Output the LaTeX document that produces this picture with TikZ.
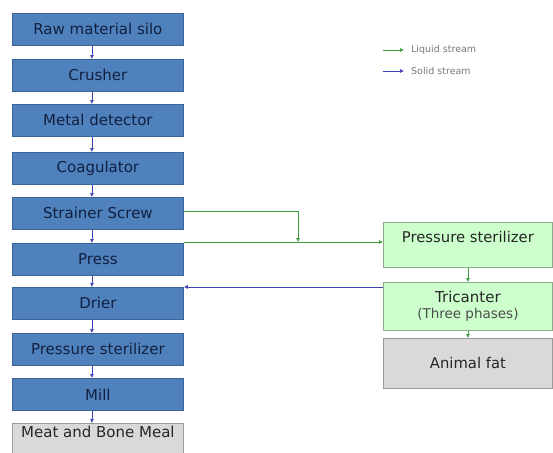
\documentclass[tikz,border=0pt]{standalone}
\usepackage{fontspec}
\setmainfont{DejaVu Sans}
\usetikzlibrary{arrows.meta}
\definecolor{boxblue}{HTML}{4F81BD}
\definecolor{boxblueline}{HTML}{3A6496}
\definecolor{txtblue}{HTML}{12203F}
\definecolor{grnfill}{HTML}{CCFFCC}
\definecolor{grnline}{HTML}{8CAA8C}
\definecolor{grayfill}{HTML}{D9D9D9}
\definecolor{grayline}{HTML}{9A9A9A}
\definecolor{liq}{HTML}{3C9A3C}
\definecolor{sol}{HTML}{4040B8}
\definecolor{legtxt}{HTML}{7A7A7A}
\begin{document}
\begin{tikzpicture}[x=1pt,y=-1pt,
  proc/.style={draw=boxblueline, fill=boxblue, minimum width=171pt, minimum height=32pt,
    text=txtblue, font=\fontsize{15}{17}\selectfont, inner sep=0pt, anchor=north west, line width=0.8pt},
  grn/.style={draw=grnline, fill=grnfill, minimum width=169pt, inner sep=0pt,
    text=black!85, font=\fontsize{13.5}{16}\selectfont, anchor=north west, line width=0.8pt, align=center},
  gry/.style={draw=grayline, fill=grayfill, minimum width=169pt, inner sep=0pt,
    text=black!85, font=\fontsize{14.8}{16}\selectfont, anchor=north west, line width=0.8pt, align=center},
  solidarr/.style={draw=sol, line width=0.6pt, -{Latex[length=4pt,width=4pt]}},
  liqarr/.style={draw=liq, line width=0.6pt, -{Latex[length=4pt,width=4pt]}},
  legtext/.style={text=legtxt, font=\fontsize{9.5}{10}\selectfont, anchor=west, inner sep=0pt}
]
\useasboundingbox (0,0) rectangle (553,452);
\fill[white] (0,0) rectangle (553,452);

% left column
\node[proc] (silo) at (12,13) {Raw material silo};
\node[proc] (crusher) at (12,59) {Crusher};
\node[proc] (metal) at (12,104) {Metal detector};
\node[proc] (coag) at (12,152) {Coagulator};
\node[proc] (strainer) at (12,197) {Strainer Screw};
\node[proc] (press) at (12,243) {Press};
\node[proc] (drier) at (12,287) {Drier};
\node[proc] (ster) at (12,333) {Pressure sterilizer};
\node[proc] (mill) at (12,378) {Mill};
\node[draw=grayline, fill=grayfill, minimum width=171pt, minimum height=34pt, inner sep=0pt,
  anchor=north west, line width=0.8pt] (mbm) at (12,423) {};
\node[text=black!85, font=\fontsize{15}{17}\selectfont, anchor=north, inner sep=0pt]
  (mbmtext) at ([yshift=-3pt]mbm.north) {Meat and Bone Meal};

% left arrows
\foreach \a/\b in {silo/crusher, crusher/metal, metal/coag, coag/strainer, strainer/press,
                   press/drier, drier/ster, ster/mill, mill/mbm}
  \draw[solidarr] ([xshift=-6pt]\a.south) -- ([xshift=-6pt]\b.north);

% right column
\node[grn, minimum height=45pt] (psr) at (383,222) {};
\node[text=black!85, font=\fontsize{14.8}{16}\selectfont, inner sep=0pt] (psrtext)
  at ([yshift=-15pt]psr.north) {Pressure sterilizer};
\node[grn, minimum height=48pt] (tri) at (383,282)
  {{\fontsize{15}{16}\selectfont Tricanter}\\{\color{black!70}(Three phases)}};
\node[gry, minimum height=50pt] (fat) at (383,338) {Animal fat};

\draw[liqarr] (psr.south) -- (tri.north);
\draw[liqarr] (tri.south) -- (fat.north);

% streams
\coordinate (j) at (298,242);
\coordinate (s) at (298,211);
\coordinate (d) at (300,287);
\draw[liqarr] (strainer.east |- s) -- (s) -- (j);
\draw[liqarr] (press.east |- j) -- (psr.west |- j);
\draw[solidarr] (tri.west |- d) -- (drier.east |- d);

% legend
\coordinate (la) at (383,50);
\coordinate (lb) at (404,50);
\coordinate (sa) at (383,71);
\coordinate (sb) at (404,71);
\draw[liqarr] (la) -- (lb);
\draw[solidarr] (sa) -- (sb);
\node[legtext] (lt) at (411,50) {Liquid stream};
\node[legtext] (st) at (411,71) {Solid stream};
\end{tikzpicture}
\end{document}
